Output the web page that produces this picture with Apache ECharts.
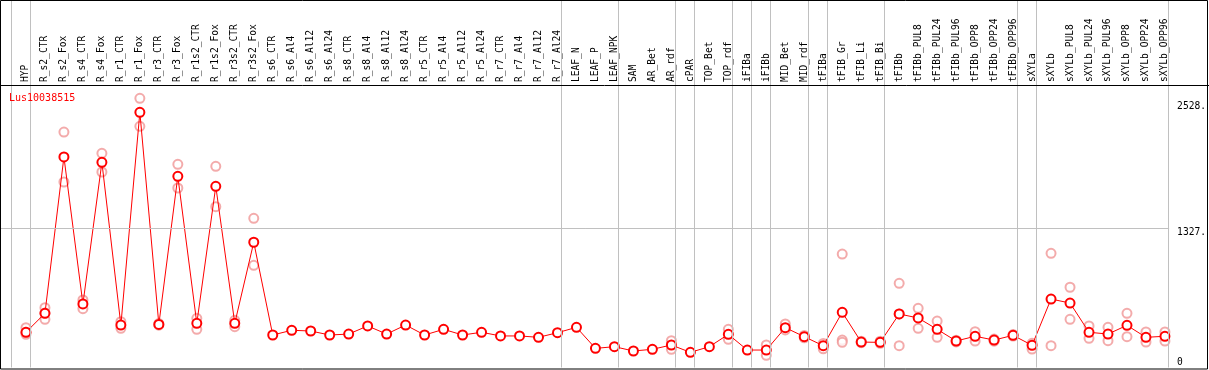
<!DOCTYPE html>
<html>
<head>
<meta charset="utf-8">
<script src="https://cdn.jsdelivr.net/npm/echarts@6/dist/echarts.min.js"></script>
<style>
html,body{margin:0;padding:0;background:#fff;}
#chart{width:1209px;height:370px;}
</style>
</head>
<body>
<div id="chart"></div>
<script>
const geneName = 'Lus10038515';
const categories = ['HYP','R_s2_CTR','R_s2_Fox','R_s4_CTR','R_s4_Fox','R_r1_CTR','R_r1_Fox','R_r3_CTR','R_r3_Fox','R_r1s2_CTR','R_r1s2_Fox','R_r3s2_CTR','R_r3s2_Fox','R_s6_CTR','R_s6_Al4','R_s6_Al12','R_s6_Al24','R_s8_CTR','R_s8_Al4','R_s8_Al12','R_s8_Al24','R_r5_CTR','R_r5_Al4','R_r5_Al12','R_r5_Al24','R_r7_CTR','R_r7_Al4','R_r7_Al12','R_r7_Al24','LEAF_N','LEAF_P','LEAF_NPK','SAM','AR_Bet','AR_rdf','cPAR','TOP_Bet','TOP_rdf','iFIBa','iFIBb','MID_Bet','MID_rdf','tFIBa','tFIB_Gr','tFIB_Li','tFIB_Bi','tFIBb','tFIBb_PUL8','tFIBb_PUL24','tFIBb_PUL96','tFIBb_OPP8','tFIBb_OPP24','tFIBb_OPP96','sXYLa','sXYLb','sXYLb_PUL8','sXYLb_PUL24','sXYLb_PUL96','sXYLb_OPP8','sXYLb_OPP24','sXYLb_OPP96'];
const meanValues = [335,515,2002,604,1951,404,2427,410,1818,420,1723,420,1191,309,354,347,309,318,395,318,404,309,363,309,335,300,300,287,331,382,182,198,157,173,214,144,198,315,166,166,379,293,207,525,242,239,509,471,363,252,297,261,306,211,651,613,335,318,401,287,297];
const rep1 = [378,569,2239,642,2037,436,2560,418,1932,468,1913,449,1419,null,null,null,null,null,null,null,null,null,null,null,null,null,null,null,null,null,null,null,null,null,255,null,null,363,null,214,414,305,229,1079,250,250,800,563,442,258,341,270,313,230,1086,763,395,382,515,338,338];
const rep2 = [316,458,1764,559,1859,373,2293,402,1707,363,1529,388,972,null,null,null,null,null,null,null,null,null,null,null,null,null,null,null,null,null,null,null,null,null,173,null,null,268,null,116,357,282,178,261,236,230,207,373,287,243,252,250,299,176,207,458,278,255,293,242,252];
const rep3 = [335,518,null,null,null,null,null,null,null,null,null,null,null,null,null,null,null,null,null,null,null,null,null,null,null,null,null,null,null,null,null,null,null,null,null,null,null,null,null,null,null,null,null,240,null,null,509,null,null,null,null,null,null,null,null,null,null,null,null,null,null];
const groupStarts = [0,1,29,32,35,36,38,39,40,42,43,46,53,54,61];
const yTickLabels = [1327, 2528];
const yZeroLabel = [0];
const gridValue = 1327;

const FONT = 'DejaVu Sans Mono';
const RED = '#ff0000';
const PINK = 'rgb(240,150,150)';

function pts(arr){ const out=[]; arr.forEach((v,i)=>{ if(v!==null) out.push([i,v]); }); return out; }

const chart = echarts.init(document.getElementById('chart'), null, {renderer:'canvas'});
const yCommon = {
  type:'value', min:0, max:3494.7, position:'right',
  axisLine:{show:false}, axisTick:{show:false}, splitLine:{show:false}
};
const repStyle = {
  type:'scatter', symbol:'emptyCircle', symbolSize:9,
  itemStyle:{color:PINK, borderWidth:1.1}, z:2, silent:true, animation:false
};
chart.setOption({
  animation:false,
  backgroundColor:'#fff',
  title:{text:geneName, left:9, top:93, padding:0, textStyle:{color:RED, fontFamily:FONT, fontSize:10, fontWeight:'normal'}},
  grid:{left:1, right:38, top:0, bottom:2.5, containLabel:false},
  xAxis:{
    type:'value', min:-1.315, max:60.22, position:'top', offset:-85,
    axisLine:{show:false}, axisTick:{show:false}, splitLine:{show:false},
    axisLabel:{
      customValues: categories.map((c,i)=>i),
      formatter:(v)=>categories[Math.round(v)] ?? '',
      rotate:90, margin:3, color:'#000', fontFamily:FONT, fontSize:9.6
    }
  },
  yAxis:[
    Object.assign({}, yCommon, {axisLabel:{customValues:yTickLabels, formatter:(v)=>v+'.', verticalAlign:'top', align:'left', margin:8, color:'#000', fontFamily:FONT, fontSize:9.6}}),
    Object.assign({}, yCommon, {axisLabel:{customValues:yZeroLabel, formatter:(v)=>String(v), verticalAlign:'bottom', align:'left', margin:8, color:'#000', fontFamily:FONT, fontSize:9.6}})
  ],
  graphic:[
    {type:'rect', shape:{x:0.5,y:0.5,width:1207,height:368.5}, style:{fill:null, stroke:'#000', lineWidth:1}, z:100, silent:true},
    {type:'line', shape:{x1:0,y1:85.5,x2:1209,y2:85.5}, style:{stroke:'#000', lineWidth:1}, z:100, silent:true}
  ],
  series:[
    Object.assign({}, repStyle, {data:pts(rep1)}),
    Object.assign({}, repStyle, {data:pts(rep2)}),
    Object.assign({}, repStyle, {data:pts(rep3)}),
    {
      type:'line', data:pts(meanValues), symbol:'emptyCircle', symbolSize:9,
      itemStyle:{color:RED, borderWidth:1.3}, lineStyle:{color:RED, width:1},
      z:3, silent:true, animation:false,
      markLine:{
        silent:true, symbol:['none','none'], animation:false,
        label:{show:false},
        lineStyle:{color:'#c0c0c0', width:1, type:'solid'},
        data: groupStarts.map(k=>({xAxis:k-0.8})).concat([{yAxis:gridValue}])
      }
    }
  ]
});
</script>
</body>
</html>
